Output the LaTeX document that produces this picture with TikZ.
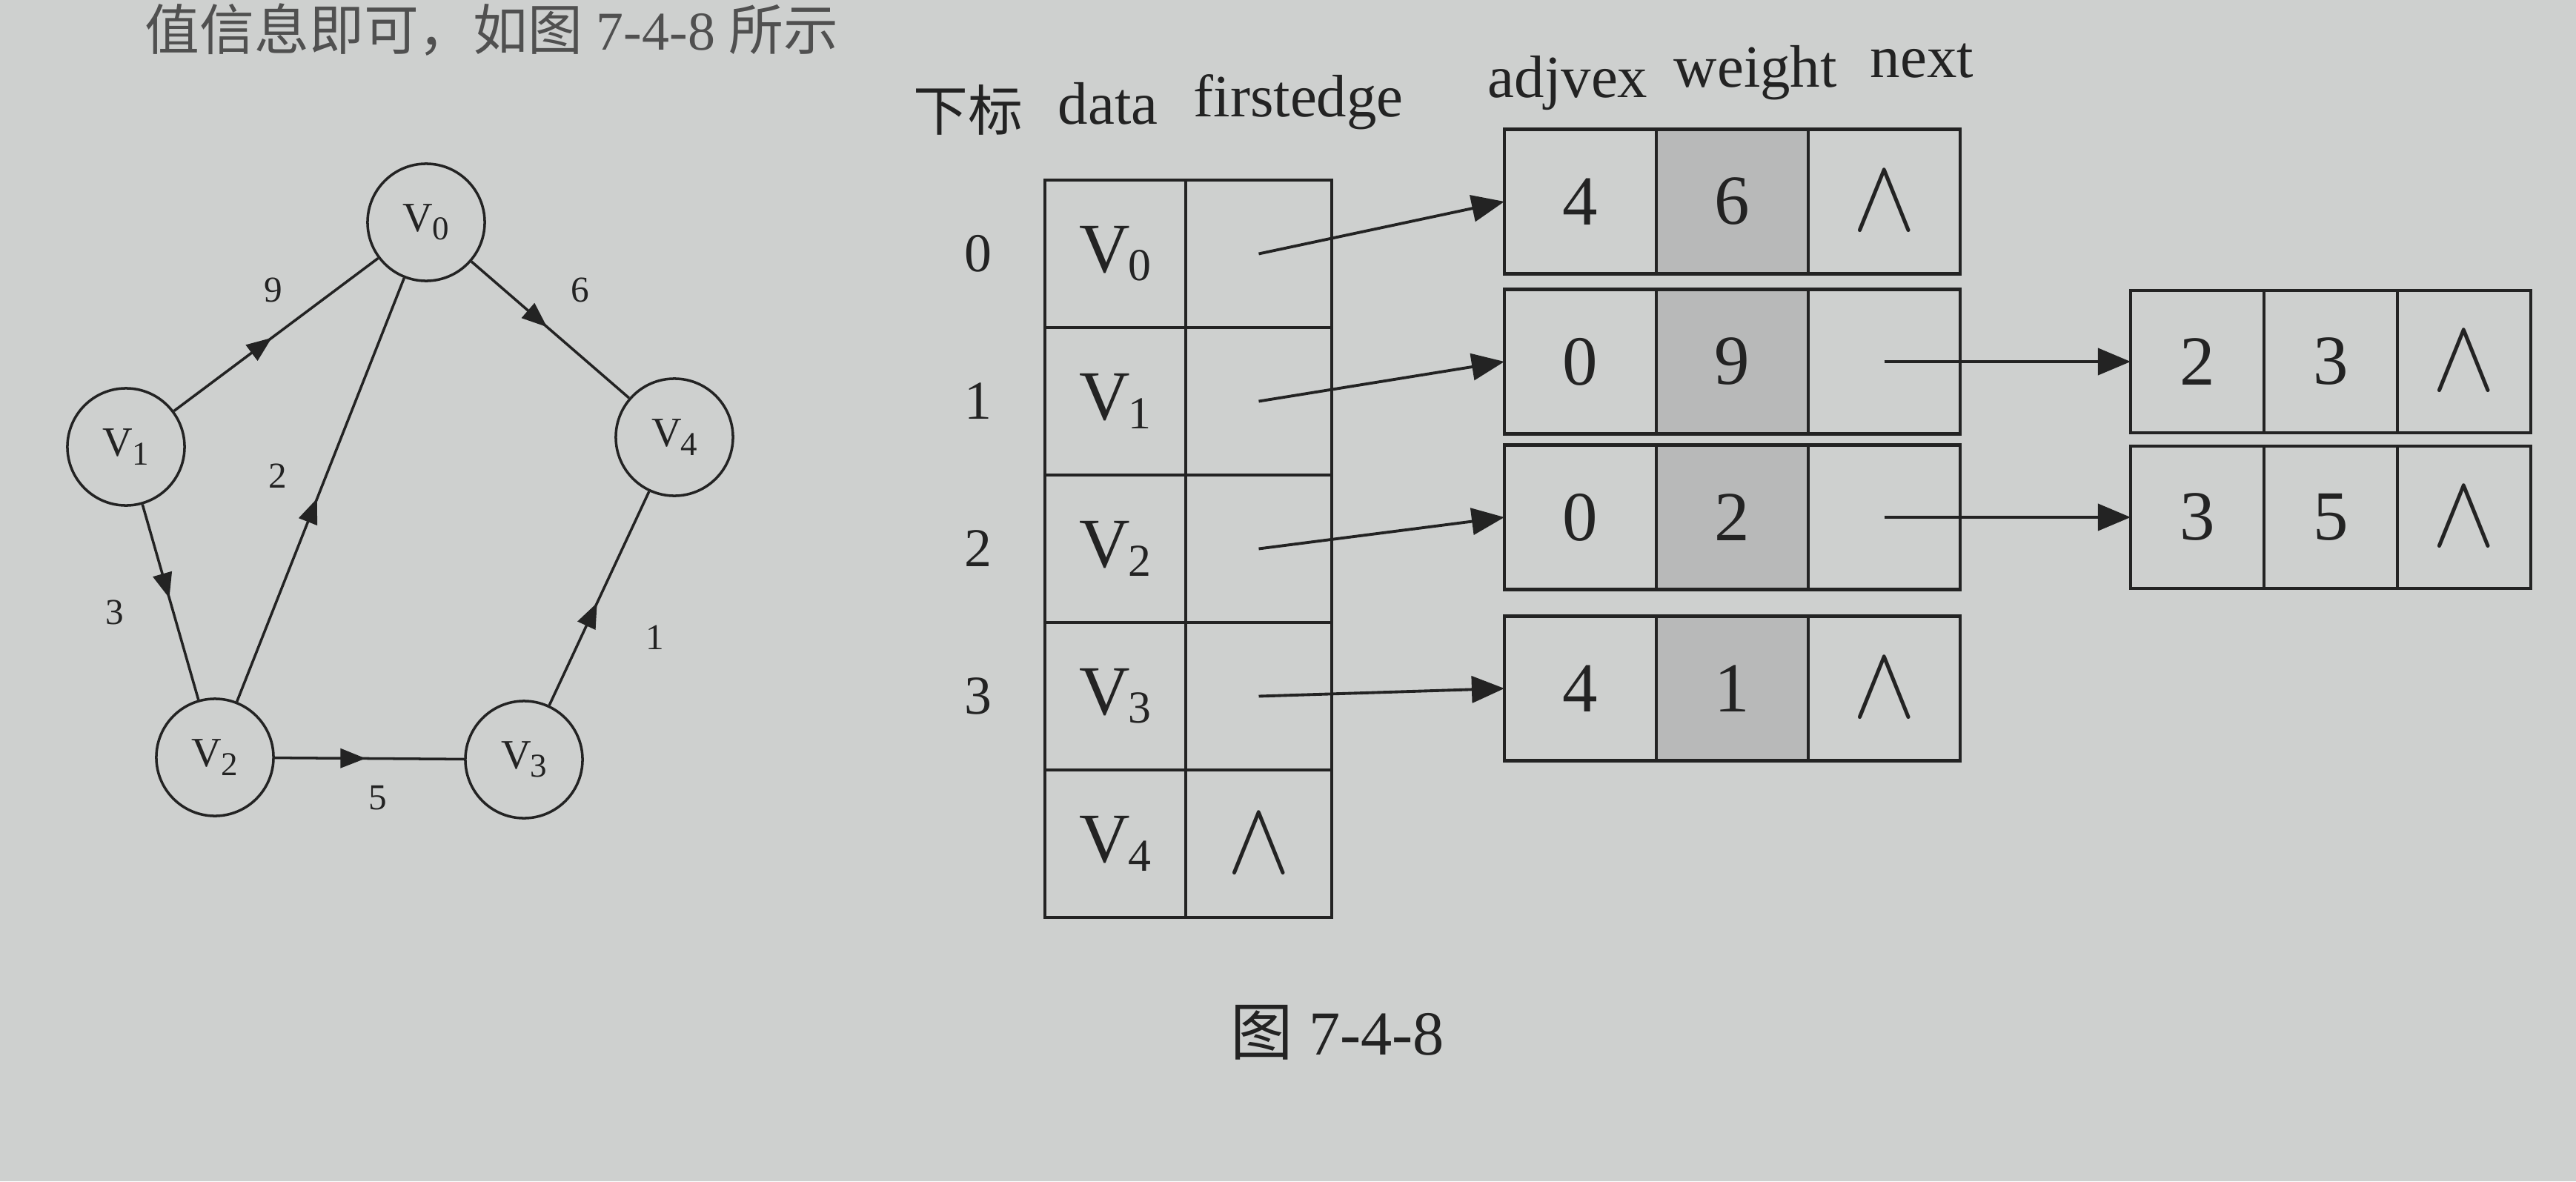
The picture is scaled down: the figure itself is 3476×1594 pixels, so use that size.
\documentclass[tikz,border=0pt]{standalone}
\usepackage{fontspec}
\setmainfont{Liberation Serif}
\newfontfamily\cjk{Noto Sans CJK SC}
\usepackage{graphicx}
\usetikzlibrary{arrows.meta,decorations.markings}
\definecolor{paper}{RGB}{206,208,207}
\definecolor{shade}{RGB}{184,185,185}
\definecolor{ink}{RGB}{35,35,35}
\definecolor{faint}{RGB}{80,80,80}
\newcommand\tabV[1]{V\kern-0.02em\raisebox{-0.12em}{\scalebox{0.65}{#1}}}
\newcommand\graphV[1]{V\kern-0.02em\raisebox{-0.2em}{\scalebox{0.8}{#1}}}
\newcommand\nullmark{\scalebox{1.45}[1.6]{$\wedge$}}
\tikzset{
  vcell/.style={draw=ink, line width=1.2pt, inner sep=0pt, outer sep=0pt, minimum height=1.99cm, text=ink, font=\fontsize{27pt}{27pt}\selectfont},
  ecell/.style={draw=ink, line width=1.2pt, inner sep=0pt, outer sep=0pt, minimum width=2.05cm, minimum height=1.95cm, text=ink, font=\fontsize{27pt}{27pt}\selectfont},
  wcell/.style={ecell, fill=shade},
  rcell/.style={ecell, minimum width=1.8cm, minimum height=1.92cm},
  ptr/.style={draw=ink, line width=1.1pt, -{Triangle[length=0.44cm,width=0.36cm]}},
  gnode/.style={circle, draw=ink, line width=1pt, minimum size=1.58cm, inner sep=0pt, text=ink, font=\fontsize{16pt}{16pt}\selectfont},
  gedge/.style={draw=ink, color=ink, line width=1pt, decoration={markings, mark=at position 0.48 with {\arrow{Triangle[length=0.34cm,width=0.26cm]}}}, postaction={decorate}},
  wlabel/.style={text=ink, font=\fontsize{14pt}{14pt}\selectfont, inner sep=0pt},
  idx/.style={text=ink, font=\fontsize{21pt}{21pt}\selectfont, inner sep=0pt},
  hdr/.style={text=ink, font=\fontsize{23pt}{23pt}\selectfont, inner sep=0pt, anchor=base west},
}
\begin{document}
\begin{tikzpicture}[x=0.01cm,y=-0.01cm]
\fill[paper] (0,0) rectangle (3476,1594);
\useasboundingbox (0,0) rectangle (3476,1594);

% line of running text at the top of the page
\node[anchor=base west, inner sep=0pt, text=faint, font=\fontsize{21pt}{21pt}\selectfont] (toptext) at (195,68) {{\cjk 值信息即可，如图} 7-4-8 {\cjk 所示}};

% ---------- graph ----------
\node[gnode] (g0) at (575,300) {\graphV{0}};
\node[gnode] (g1) at (170,603) {\graphV{1}};
\node[gnode] (g4) at (910,590) {\graphV{4}};
\node[gnode] (g2) at (290,1022) {\graphV{2}};
\node[gnode] (g3) at (707,1025) {\graphV{3}};
\draw[gedge] (g1) -- (g0);
\draw[gedge] (g0) -- (g4);
\draw[gedge] (g2) -- (g0);
\draw[gedge] (g1) -- (g2);
\draw[gedge] (g2) -- (g3);
\draw[gedge] (g3) -- (g4);
\node[wlabel] (w9) at (369,391) {9};
\node[wlabel] (w6) at (783,391) {6};
\node[wlabel] (w2) at (375,642) {2};
\node[wlabel] (w3) at (155,826) {3};
\node[wlabel] (w1) at (884,860) {1};
\node[wlabel] (w5) at (510,1077) {5};

% ---------- headers ----------
\node[hdr, font=\fontsize{21pt}{21pt}\selectfont] (hidx) at (1232,176) {\cjk 下标};
\node[hdr] (hdata) at (1427,168) {data};
\node[hdr] (hfirst) at (1610,158) {firstedge};
\node[hdr] (hadj) at (2007,132) {adjvex};
\node[hdr] (hweight) at (2258,118) {weight};
\node[hdr] (hnext) at (2523,105) {next};

% ---------- vertex table ----------
\foreach \r/\y in {0/342.5,1/541.5,2/740.5,3/939.5,4/1138.5}{
  \node[vcell, minimum width=1.9cm] (d\r) at (1505,\y) {\tabV{\r}};
}
\node[vcell, minimum width=1.97cm] (f0) at (1698.5,342.5) {};
\node[vcell, minimum width=1.97cm] (f1) at (1698.5,541.5) {};
\node[vcell, minimum width=1.97cm] (f2) at (1698.5,740.5) {};
\node[vcell, minimum width=1.97cm] (f3) at (1698.5,939.5) {};
\node[vcell, minimum width=1.97cm] (f4) at (1698.5,1138.5) {\nullmark};
\node[idx] (i0) at (1320,342.5) {0};
\node[idx] (i1) at (1320,541.5) {1};
\node[idx] (i2) at (1320,740.5) {2};
\node[idx] (i3) at (1320,939.5) {3};

% ---------- edge nodes ----------
\node[ecell] (e0a) at (2132.5,272) {4};
\node[wcell] (e0b) at (2337.5,272) {6};
\node[ecell] (e0c) at (2542.5,272) {\nullmark};

\node[ecell] (e1a) at (2132.5,488) {0};
\node[wcell] (e1b) at (2337.5,488) {9};
\node[ecell] (e1c) at (2542.5,488) {};

\node[ecell] (e2a) at (2132.5,698) {0};
\node[wcell] (e2b) at (2337.5,698) {2};
\node[ecell] (e2c) at (2542.5,698) {};

\node[ecell] (e3a) at (2132.5,929) {4};
\node[wcell] (e3b) at (2337.5,929) {1};
\node[ecell] (e3c) at (2542.5,929) {\nullmark};

\node[rcell] (ra1) at (2965,488) {2};
\node[rcell] (ra2) at (3145,488) {3};
\node[rcell] (ra3) at (3325,488) {\nullmark};

\node[rcell] (rb1) at (2965,698) {3};
\node[rcell] (rb2) at (3145,698) {5};
\node[rcell] (rb3) at (3325,698) {\nullmark};

% ---------- pointers ----------
\draw[ptr] (f0.center) -- (e0a.west);
\draw[ptr] (f1.center) -- (e1a.west);
\draw[ptr] (f2.center) -- (e2a.west);
\draw[ptr] (f3.center) -- (e3a.west);
\draw[ptr] (e1c.center) -- (ra1.west);
\draw[ptr] (e2c.center) -- (rb1.west);

% ---------- caption ----------
\node[anchor=base, inner sep=0pt, text=ink, font=\fontsize{24pt}{24pt}\selectfont] (cap) at (1805,1423) {{\cjk 图} 7-4-8};
\end{tikzpicture}
\end{document}
